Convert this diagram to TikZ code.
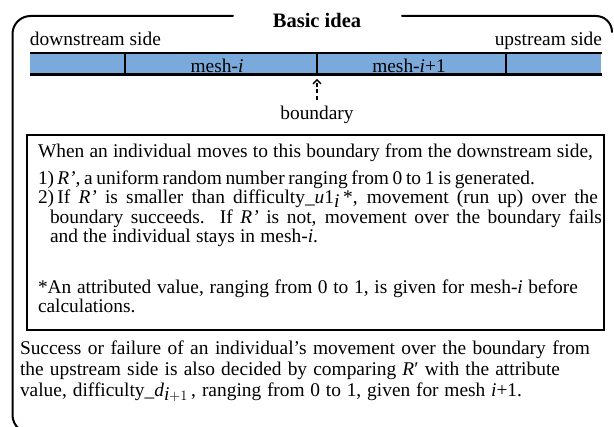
\documentclass[tikz,border=0pt]{standalone}
\usepackage{fontspec}
\setmainfont{Liberation Serif}
\usetikzlibrary{arrows.meta}
\definecolor{meshblue}{RGB}{122,170,220}
% a line of text stretched across a given width
\newcommand{\fitline}[2]{\makebox[#1pt][s]{#2}}
\begin{document}
\begin{tikzpicture}[x=1pt,y=-1pt,
  every node/.style={inner sep=0pt,outer sep=0pt},
  body/.style={font=\fontsize{19.4}{22}\selectfont},
  txt/.style={body,anchor=base west},
  tight/.style={text height=13pt,text depth=3.5pt},
  frameline/.style={line width=2pt,line cap=round},
  divider/.style={line width=2pt}]
\useasboundingbox (0,0) rectangle (614,427);

% outer frame with the title gap
\draw[frameline] (233,16) -- (30.5,16) arc[start angle=270,end angle=180,radius=18]
  -- (12.5,415) arc[start angle=180,end angle=130,radius=18];
\draw[frameline] (402,16) -- (596,16) arc[start angle=270,end angle=360,radius=16];
\node[font=\bfseries\fontsize{20.5}{24}\selectfont,anchor=base] (title) at (317,28) {Basic idea};

% side labels
\node[txt] (down) at (30,46) {downstream side};
\node[body,anchor=base east] (up) at (602,46) {upstream side};

% mesh bar
\fill[meshblue] (30,54) rectangle (601,74);
\draw[line width=2pt] (30,53.5) -- (602,53.5);
\draw[line width=3pt] (30,75) -- (602,75);
\foreach \x in {125,317,506} \draw[divider] (\x,53.5) -- (\x,75);
\node[body,anchor=base] (mi) at (217,73) {mesh-\textit{i}};
\node[body,anchor=base] (mj) at (409,73) {mesh-\textit{i}+1};

% boundary marker
\coordinate (btip) at (317,79);
\coordinate (btail) at (317,100);
\draw[line width=2pt,dash pattern=on 4pt off 2.5pt,-{Straight Barb[length=4pt,width=8pt,line width=1.3pt]}] (btail) -- (btip);
\node[body,anchor=base] (bnd) at (317,120) {boundary};

% rule box
\draw[line width=2pt] (27,135) rectangle (604,330);
\node[txt] (l1) at (38,158) {\fitline{555}{When an individual moves to this boundary from the downstream side,}};
\node[txt,tight] (l2) at (38,185) {\fitline{497}{1)\,\textit{R’}, a uniform random number ranging from 0 to 1 is generated.}};
\node[txt,tight] (l3) at (38,204) {\fitline{560}{2)\,If \textit{R’} is smaller than difficulty\smash{\_}\textit{u}1$_{\smash{\textit{i}}}$\,*, movement (run up) over the}};
\node[txt,tight] (l4) at (50,224) {\fitline{552}{boundary succeeds.\ \ If \textit{R’} is not, movement over the boundary fails}};
\node[txt,tight] (l5) at (50,243) {\fitline{268}{and the individual stays in mesh-\textit{i}.}};
\node[txt] (l6) at (38,294) {\fitline{540}{*An attributed value, ranging from 0 to 1, is given for mesh-\textit{i} before}};
\node[txt] (l7) at (38,313) {calculations.};

% closing remark
\node[txt] (s1) at (20,355) {\fitline{570}{Success or failure of an individual’s movement over the boundary from}};
\node[txt] (s2) at (20,376) {\fitline{540}{the upstream side is also decided by comparing \textit{R}′ with the attribute}};
\node[txt] (s3) at (20,397) {\fitline{502}{value, difficulty\_\textit{d}$_{\smash{\textit{i}+1}}$\,, ranging from 0 to 1, given for mesh \textit{i}+1.}};
\end{tikzpicture}
\end{document}
